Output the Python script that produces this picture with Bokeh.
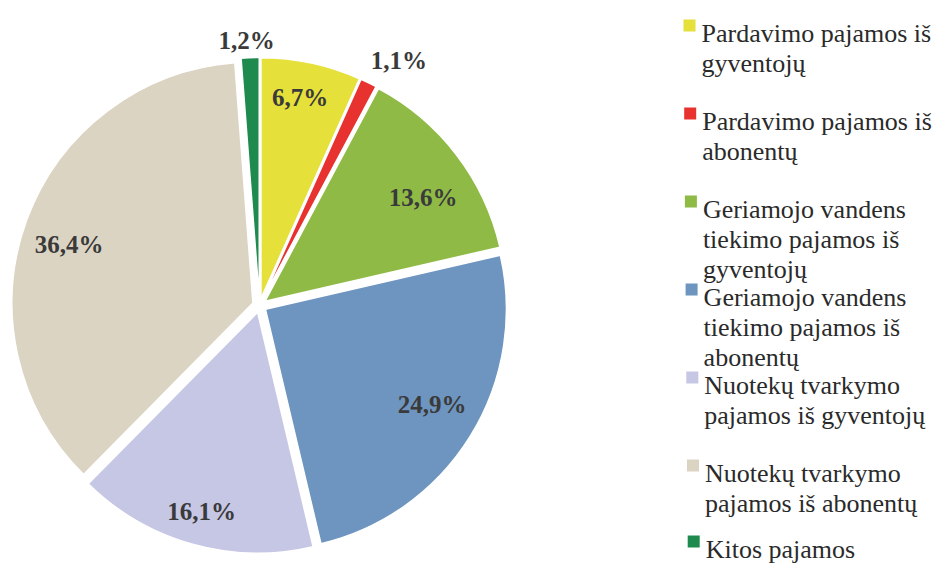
import math
from bokeh.plotting import figure
from bokeh.models import Range1d, ColumnDataSource
from bokeh.core.properties import value
from bokeh.embed import file_html
from bokeh.resources import INLINE

# ---- data ----
categories = [
    "Pardavimo pajamos iš\ngyventojų",
    "Pardavimo pajamos iš\nabonentų",
    "Geriamojo vandens\ntiekimo pajamos iš\ngyventojų",
    "Geriamojo vandens\ntiekimo pajamos iš\nabonentų",
    "Nuotekų tvarkymo\npajamos iš gyventojų",
    "Nuotekų tvarkymo\npajamos iš abonentų",
    "Kitos  pajamos",
]
shares = [6.7, 1.1, 13.6, 24.9, 16.1, 36.4, 1.2]
share_labels = ["6,7%", "1,1%", "13,6%", "24,9%", "16,1%", "36,4%", "1,2%"]
colors = ["#e6e03a", "#e8322f", "#8fba45", "#6d95bf", "#c6c7e4", "#dcd4c3", "#1f8a4e"]

# ---- layout / style ----
W, H = 939, 568
CX, CY = 259, -305       # pie centre (y up, page px)
R = 241
EXPLODE = 7
label_r = [212, 282, 196, 199, 214, 200, 265]
label_nudge = [-1, 3.5, 4, -2, 0, -2.4, -0.6]   # degrees
FONT = "Liberation Serif"

p = figure(width=W, height=H, x_range=Range1d(0, W), y_range=Range1d(-H, 0),
           output_backend="svg", toolbar_location=None, min_border=0,
           x_axis_location=None, y_axis_location=None, tools="")
p.grid.visible = False
p.outline_line_color = None
p.background_fill_color = "white"
p.border_fill_color = "white"

total = sum(shares)
xs, ys, starts, ends, mids = [], [], [], [], []
acc = 0.0
for s in shares:
    t0 = acc / total * 360.0
    acc += s
    t1 = acc / total * 360.0
    tm = (t0 + t1) / 2.0
    mids.append(tm)
    xs.append(CX + EXPLODE * math.sin(math.radians(tm)))
    ys.append(CY + EXPLODE * math.cos(math.radians(tm)))
    starts.append(math.radians(90 - t0))
    ends.append(math.radians(90 - t1))

src = ColumnDataSource(dict(x=xs, y=ys, start=starts, end=ends, color=colors))
p.wedge(x="x", y="y", radius=R, start_angle="start", end_angle="end", direction="clock",
        fill_color="color", line_color="white", line_width=1.5, source=src)

lx, ly = [], []
for tm, rr, nd in zip(mids, label_r, label_nudge):
    a = math.radians(tm + nd)
    lx.append(CX + rr * math.sin(a))
    ly.append(CY + rr * math.cos(a))
p.text(x=lx, y=ly, text=share_labels, text_align="center", text_baseline="middle",
       text_font=value(FONT), text_font_size="25px", text_font_style="bold",
       text_color="#3a3a3a")

# ---- legend (drawn) ----
LEG_X = 689
TXT_X = 701
base0, step, line_h = 33, 88.0, 30
mx, my, mc = [], [], []
tx, ty, tt = [], [], []
for i, (cat, col) in enumerate(zip(categories, colors)):
    b = min(base0 + step * i, 549)
    xoff = i * 0.7
    mx.append(LEG_X + xoff)
    my.append(-(b - 8))
    mc.append(col)
    for j, line in enumerate(cat.split("\n")):
        tx.append(TXT_X + xoff)
        ty.append(-(b + j * line_h))
        tt.append(line)

p.rect(x=mx, y=my, width=12, height=12, fill_color=mc, line_color=None)
p.text(x=tx, y=ty, text=tt, text_align="left", text_baseline="alphabetic",
       text_font=value(FONT), text_font_size="26px", text_color="#2a2a2a")

open("out.html", "w").write(file_html(p, INLINE))
